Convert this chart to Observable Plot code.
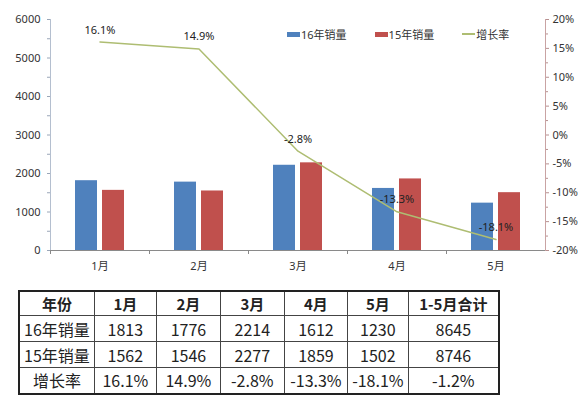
<!DOCTYPE html>
<html>
<head>
<meta charset="utf-8">
<script src="https://cdn.jsdelivr.net/npm/d3@7"></script>
<script src="https://cdn.jsdelivr.net/npm/@observablehq/plot@0.6"></script>
<style>
  html, body { margin: 0; padding: 0; background: #fff; }
  #wrap { position: relative; width: 586px; height: 398px; font-family: "Noto Sans", "Noto Sans CJK SC", sans-serif; }
  #legend { position: absolute; left: 287px; top: 26px; display: flex; font-size: 11px; color: #333; align-items: center; }
  #legend .item { display: flex; align-items: center; }
  #legend .sw { display: inline-block; width: 13px; height: 5px; margin-right: 1px; }
  #legend .ln { display: inline-block; width: 13px; height: 1.5px; margin-right: 1px; }
  table { position: absolute; left: 18px; top: 290px; width: 482px; height: 105px; border-collapse: collapse; border: 2px solid #222; font-family: "Noto Sans CJK SC", sans-serif; color: #222; }
  td, th { border: 1px solid #444; text-align: center; padding: 0; font-size: 16px; font-weight: normal; line-height: 1; }
  th { font-weight: bold; font-size: 15px; }
</style>
</head>
<body>
<div id="wrap">
  <div id="chart"></div>
  <div id="legend"></div>
  <table id="tbl"></table>
</div>
<script>
const months = ["1月", "2月", "3月", "4月", "5月"];
const sales16 = [1813, 1776, 2214, 1612, 1230];
const sales15 = [1562, 1546, 2277, 1859, 1502];
const growth = [16.1, 14.9, -2.8, -13.3, -18.1];
const totalLabel = "1-5月合计";
const total16 = 8645;
const total15 = 8746;
const totalGrowth = -1.2;
const leftTicks = [0, 1000, 2000, 3000, 4000, 5000, 6000];
const leftMinor = [500, 1500, 2500, 3500, 4500, 5500];
const rightTicks = [-20, -15, -10, -5, 0, 5, 10, 15, 20];
const rightMinor = [-17.5, -12.5, -7.5, -2.5, 2.5, 7.5, 12.5, 17.5];
const seriesNames = ["16年销量", "15年销量", "增长率"];
const colors = ["#4f81bd", "#c0504d", "#aebd72"];

// map growth (%) onto the left scale: -20% -> 0, 20% -> 6000
const toY = g => (g + 20) * 150;

const data = months.map((m, i) => ({month: m, s16: sales16[i], s15: sales15[i], g: growth[i]}));

const chart = Plot.plot({
  width: 586,
  height: 285,
  marginLeft: 50,
  marginRight: 41,
  marginTop: 19,
  marginBottom: 35,
  x: {domain: months, padding: 0, label: null},
  y: {domain: [0, 6000], label: null},
  style: {fontFamily: "'Noto Sans', 'Noto Sans CJK SC', sans-serif", fontSize: "11px", color: "#333", background: "#fff"},
  marks: [
    Plot.barY(data, {x: "month", y: "s16", fill: colors[0], insetLeft: 25, insetRight: 52}),
    Plot.barY(data, {x: "month", y: "s15", fill: colors[1], insetLeft: 52, insetRight: 25}),
    Plot.frame({anchor: "left", stroke: "#b4bfcf"}),
    Plot.frame({anchor: "right", stroke: "#c9a3a3"}),
    Plot.ruleY([0], {stroke: "#8a8a8a"}),
    Plot.axisY(leftTicks, {anchor: "left", tickSize: 3, tickPadding: 7, stroke: "#9aa6b8", tickFormat: d => String(d)}),
    Plot.axisY(leftMinor, {anchor: "left", tickSize: 3, tickFormat: () => "", stroke: "#9aa6b8"}),
    Plot.axisY(rightTicks.map(toY), {anchor: "right", tickSize: 3, tickPadding: 4, stroke: "#b79090", tickFormat: v => Math.round(v / 150 - 20) + "%"}),
    Plot.axisY(rightMinor.map(toY), {anchor: "right", tickSize: 2, stroke: "#b79090", tickFormat: () => ""}),
    Plot.axisX({tickSize: 0, tickPadding: 12}),
    Plot.axisX({tickSize: 4, dx: -49.5, stroke: "#888", tickFormat: () => ""}),
    Plot.line(data, {x: "month", y: d => toY(d.g), stroke: colors[2], strokeWidth: 1.5}),
    Plot.text(data, {x: "month", y: d => toY(d.g), text: d => d.g.toFixed(1) + "%", dy: -12, fill: "#222", fontSize: 11})
  ]
});
document.getElementById("chart").appendChild(chart);

// legend
const legend = document.getElementById("legend");
seriesNames.forEach((name, i) => {
  const item = document.createElement("div");
  item.className = "item";
  item.style.marginRight = i < 2 ? "28px" : "0";
  const sw = document.createElement("span");
  sw.className = i < 2 ? "sw" : "ln";
  sw.style.background = colors[i];
  item.appendChild(sw);
  item.appendChild(document.createTextNode(name));
  legend.appendChild(item);
});

// table
const tbl = document.getElementById("tbl");
const widths = [77, 62, 64, 64, 63, 60, 92];
const rows = [
  ["年份", ...months, totalLabel],
  [seriesNames[0], ...sales16, total16],
  [seriesNames[1], ...sales15, total15],
  [seriesNames[2], ...growth.map(g => g.toFixed(1) + "%"), totalGrowth.toFixed(1) + "%"]
];
rows.forEach((r, ri) => {
  const tr = document.createElement("tr");
  r.forEach((v, ci) => {
    const c = document.createElement(ri === 0 ? "th" : "td");
    c.textContent = v;
    c.style.width = widths[ci] + "px";
    tr.appendChild(c);
  });
  tbl.appendChild(tr);
});
</script>
</body>
</html>
